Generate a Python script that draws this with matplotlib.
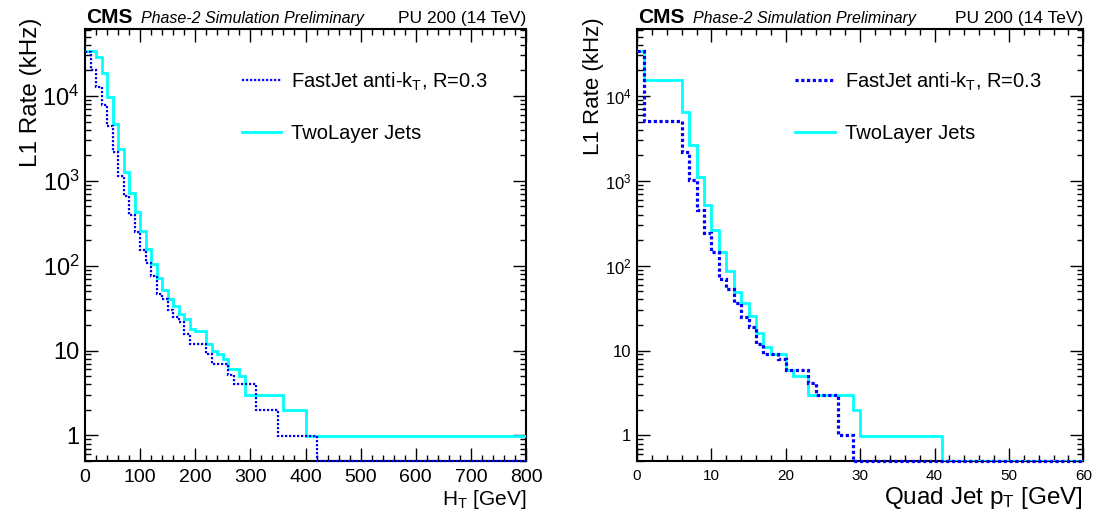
import numpy as np
import matplotlib
matplotlib.use("Agg")
import matplotlib.pyplot as plt
from matplotlib.ticker import FixedLocator, FixedFormatter, MultipleLocator, LogLocator, NullFormatter

plt.rcParams['font.family'] = ['Liberation Sans', 'DejaVu Sans']
plt.rcParams['mathtext.fontset'] = 'custom'
plt.rcParams['mathtext.rm'] = 'Liberation Sans'
plt.rcParams['mathtext.it'] = 'Liberation Sans:italic'

# H_T rates (kHz), step histogram edges in GeV
ht_fast_edges = [0, 10, 20, 30, 40, 50, 60, 70, 80, 90, 100, 110, 120, 130, 140, 150,
                 160, 170, 180, 190, 220, 230, 260, 270, 310, 350, 420, 800]
ht_fast_rate = [33000, 20000, 12700, 7800, 4430, 2200, 1150, 670, 394, 250, 152, 108,
                75, 47, 40, 29.8, 24.9, 21.7, 15.8, 11.9, 9.2, 6.9, 5.1, 4.0, 1.97, 0.98, 0]
ht_two_edges = [0, 20, 30, 40, 50, 60, 70, 80, 90, 100, 110, 120, 130, 140, 150, 160,
                170, 180, 190, 200, 220, 230, 240, 250, 260, 280, 290, 360, 400, 800]
ht_two_rate = [34000, 29000, 18500, 9700, 4700, 2400, 1270, 720, 430, 255, 157, 106,
               72, 52, 40.6, 33.3, 27.3, 23.4, 17.9, 17.0, 12.1, 9.9, 9.0, 8.0, 6.0,
               5.0, 2.97, 1.97, 0.98]

# quad jet pT rates (kHz)
qj_fast_edges = [0, 1, 6, 7, 8, 9, 10, 11, 12, 13, 14, 15, 16, 17, 19, 20, 23, 24, 27, 29, 60]
qj_fast_rate = [34000, 5100, 2200, 1020, 455, 240, 146, 69, 53.7, 36.4, 24.9, 19, 12.1,
                9.2, 8.0, 5.95, 4.14, 2.97, 1.0, 0]
qj_two_edges = [0, 1, 6, 7, 8, 9, 10, 11, 12, 13, 14, 15, 16, 17, 18, 20, 21, 23, 29, 30, 41, 60]
qj_two_rate = [34000, 15500, 6500, 2640, 1100, 518, 267, 146, 87, 48.7, 36.4, 25.3, 16.1,
               11.0, 9.0, 5.95, 5.0, 2.97, 1.97, 0.98, 0]

ymin, ymax = 0.5, 6.1e4
ytick_vals = [1, 10, 100, 1000, 10000]
ytick_labels = ['1', '10', '$10^{2}$', '$10^{3}$', '$10^{4}$']

W, H = 1100, 521
fig = plt.figure(figsize=(W / 100, H / 100), dpi=100)


def box(x0, y0, x1, y1):
    return [x0 / W, 1 - y1 / H, (x1 - x0) / W, (y1 - y0) / H]


def panel(rect, xmax, xmajor, xminor, fast, two, xlabel, xlab_fs, ylab_fs, xtick_fs,
          ytick_fs, fast_lw, ylab_x):
    ax = fig.add_axes(rect)
    ax.set_yscale('log')
    ax.stairs(np.maximum(two[1], ymin), two[0], baseline=None, color='#00ffff', lw=2.0,
              label='TwoLayer Jets', zorder=3)
    ax.stairs(np.maximum(fast[1], ymin), fast[0], baseline=None, color='#0000ff', lw=fast_lw,
              linestyle=(0, (1, 0.8)), label=r'FastJet anti-k$_{\mathrm{T}}$, R=0.3',
              zorder=4, clip_on=False)
    ax.set_xlim(0, xmax)
    ax.set_ylim(ymin, ymax)
    ax.xaxis.set_major_locator(MultipleLocator(xmajor))
    ax.xaxis.set_minor_locator(MultipleLocator(xminor))
    ax.yaxis.set_major_locator(FixedLocator(ytick_vals))
    ax.yaxis.set_major_formatter(FixedFormatter(ytick_labels))
    ax.yaxis.set_minor_locator(LogLocator(base=10, subs=np.arange(2, 10)))
    ax.yaxis.set_minor_formatter(NullFormatter())
    ax.tick_params(which='both', direction='in', top=True, right=True, width=1.0)
    ax.tick_params(which='major', length=9.5)
    ax.tick_params(which='minor', length=4.5)
    ax.tick_params(axis='x', labelsize=xtick_fs, pad=6)
    ax.tick_params(axis='y', labelsize=ytick_fs, pad=4)
    for s in ax.spines.values():
        s.set_linewidth(1.5)
    ax.set_xlabel(xlabel, fontsize=xlab_fs, loc='right', labelpad=1)
    ax.set_ylabel('L1 Rate (kHz)', fontsize=ylab_fs, loc='top')
    ax.yaxis.set_label_coords(ylab_x, 1.027)
    h, l = ax.get_legend_handles_labels()
    ax.legend(h[::-1], l[::-1], loc='upper left', bbox_to_anchor=(0.355, 0.905),
              frameon=False, fontsize=14.5, borderpad=0, borderaxespad=0,
              handlelength=1.95, handletextpad=0.5, labelspacing=1.55)
    return ax


axl = panel(box(85, 29.3, 526, 461), 800, 100, 20, (ht_fast_edges, ht_fast_rate),
            (ht_two_edges, ht_two_rate), r'H$_{\mathrm{T}}$ [GeV]', 15, 17.5, 14, 17, 1.6, -0.098)
axr = panel(box(637, 29.3, 1083.3, 461), 60, 10, 2, (qj_fast_edges, qj_fast_rate),
            (qj_two_edges, qj_two_rate), r'Quad Jet p$_{\mathrm{T}}$ [GeV]', 17.5, 16, 11, 12,
            2.3, -0.074)

for x0, x1 in [(86, 526.5), (638, 1083)]:
    yb = 1 - 23 / H
    fig.text(x0 / W, yb, 'CMS', fontsize=15, fontweight='bold', va='baseline')
    fig.text((x0 + 55) / W, yb, 'Phase-2 Simulation Preliminary', fontsize=11.5,
             style='italic', va='baseline')
    fig.text(x1 / W, yb, 'PU 200 (14 TeV)', fontsize=12.5, ha='right', va='baseline')

fig.savefig('out.png', dpi=100)
